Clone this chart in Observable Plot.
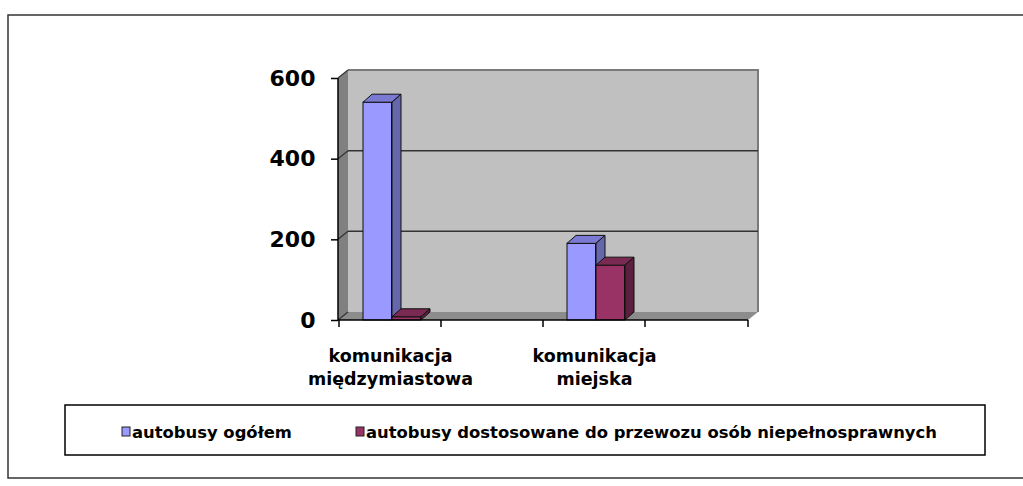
<!DOCTYPE html>
<html><head><meta charset="utf-8">
<script src="https://cdn.jsdelivr.net/npm/d3@7"></script>
<script src="https://cdn.jsdelivr.net/npm/@observablehq/plot@0.6"></script>
<style>body{margin:0;background:#fff;} #chart{position:relative;width:1023px;height:486px;overflow:hidden;}</style>
</head><body><div id="chart"></div>
<script>
// ---- data ----
const categories = ["komunikacja\nmiędzymiastowa", "", "komunikacja\nmiejska", " "];
const seriesNames = ["autobusy ogółem", "autobusy dostosowane do przewozu osób niepełnosprawnych"];
const ogolem = [540, null, 190, null];
const dostosowane = [8, null, 136, null];
const yTicks = [0, 200, 400, 600];
const yDomain = [0, 600];
const frontColors = ["#9999FF", "#993366"];
const topColors = ["#7A7AD2", "#7A2952"];
const sideColors = ["#6666AA", "#5C1F3F"];

const seriesValues = [ogolem, dostosowane];
const rows = seriesValues.map((vals, s) =>
  categories.map((c, i) => ({category: c, series: seriesNames[s], value: vals[i]})).filter(d => d.value != null));

// ---- layout ----
const W = 1023, H = 486;
const mL = 338, mR = 275, mT = 78, mB = 166;
const bw = (W - mL - mR) / categories.length;
const barW = 29, barOff = 24;
const insets = [[barOff, bw - barOff - barW], [barOff + barW, bw - barOff - 2 * barW]];
const DX = 10, DY = -8;   // wall depth
const BDX = 9, BDY = -8;  // bar depth
const FONT = "DejaVu Sans";

const plot = Plot.plot({
  width: W, height: H,
  marginLeft: mL, marginRight: mR, marginTop: mT, marginBottom: mB,
  style: {fontFamily: FONT, background: "transparent", color: "#000"},
  x: {domain: categories, padding: 0, axis: null},
  y: {domain: yDomain, axis: null},
  marks: [
    Plot.axisY({ticks: yTicks, tickSize: 7, tickPadding: 16, fontSize: 22, fontWeight: "bold",
      fill: "#000", stroke: "#000", strokeWidth: 1.5, label: null, tickFormat: d => String(d)}),
    Plot.axisX({tickSize: 0, tickPadding: 24, fontSize: 17.5, fontWeight: "bold", lineHeight: 1.37,
      fill: "#000", label: null}),
    ...rows.map((r, s) => Plot.barY(r, {x: "category", y: "value", fill: frontColors[s],
      stroke: "#111", strokeWidth: 1, insetLeft: insets[s][0], insetRight: insets[s][1]}))
  ]
});
document.getElementById("chart").appendChild(plot);

const xs = plot.scale("x"), ys = plot.scale("y");
const X = v => xs.apply(v), Y = v => ys.apply(v);
const svg = d3.select(plot);
const x0 = mL, x1 = W - mR, yb = Y(yDomain[0]), yt = Y(yDomain[1]);
const pts = a => a.map(p => p.join(",")).join(" ");

// ---- walls (behind everything) ----
const walls = svg.insert("g", ":first-child");
walls.append("rect").attr("x", x0 + DX).attr("y", yt + DY).attr("width", x1 - x0).attr("height", yb - yt)
  .attr("fill", "#C0C0C0");
walls.append("polygon").attr("points", pts([[x0, yt], [x0 + DX, yt + DY], [x0 + DX, yb + DY], [x0, yb]]))
  .attr("fill", "#808080");
walls.append("polygon").attr("points", pts([[x0, yb], [x0 + DX, yb + DY], [x1 + DX, yb + DY], [x1, yb]]))
  .attr("fill", "#8C8C8C");
walls.append("path").attr("d", `M${x0 + DX},${yt + DY}H${x1 + DX}V${yb + DY}`)
  .attr("fill", "none").attr("stroke", "#7A7A7A").attr("stroke-width", 2);
yTicks.forEach(t => {
  const yy = Y(t);
  if (t !== yDomain[0] && t !== yDomain[1])
    walls.append("line").attr("x1", x0 + DX).attr("x2", x1 + DX).attr("y1", yy + DY).attr("y2", yy + DY)
      .attr("stroke", "#333").attr("stroke-width", 1.5);
  walls.append("line").attr("x1", x0).attr("x2", x0 + DX).attr("y1", yy).attr("y2", yy + DY)
    .attr("stroke", "#333").attr("stroke-width", 1.2);
});

// ---- 3D bar faces ----
const barGroups = plot.querySelectorAll('g[aria-label="bar"]');
rows.forEach((r, s) => {
  const g0 = barGroups[s];
  const g = document.createElementNS("http://www.w3.org/2000/svg", "g");
  if (g0) g0.parentNode.insertBefore(g, g0.nextSibling); else plot.appendChild(g);
  const gg = d3.select(g).attr("stroke", "#111").attr("stroke-width", 1).attr("stroke-linejoin", "round");
  r.forEach(d => {
    const xl = X(d.category) + insets[s][0], xr = X(d.category) + bw - insets[s][1];
    const yv = Y(d.value), y0 = Y(0);
    gg.append("polygon").attr("points", pts([[xl, yv], [xr, yv], [xr + BDX, yv + BDY], [xl + BDX, yv + BDY]]))
      .attr("fill", topColors[s]);
    gg.append("polygon").attr("points", pts([[xr, yv], [xr + BDX, yv + BDY], [xr + BDX, y0 + BDY], [xr, y0]]))
      .attr("fill", sideColors[s]);
  });
});

// ---- front axes ----
const ax = svg.append("g").attr("stroke", "#000").attr("stroke-width", 1.5);
ax.append("line").attr("x1", x0).attr("x2", x0).attr("y1", yt).attr("y2", yb);
ax.append("line").attr("x1", x0).attr("x2", x1).attr("y1", yb).attr("y2", yb);
categories.forEach(c => {
  const xx = X(c);
  ax.append("line").attr("x1", xx).attr("x2", xx).attr("y1", yb).attr("y2", yb + 7);
});
ax.append("line").attr("x1", x1).attr("x2", x1).attr("y1", yb).attr("y2", yb + 7);

// ---- legend ----
const lg = svg.append("g").attr("font-family", FONT).attr("font-weight", "bold").attr("font-size", 16.4)
  .attr("text-anchor", "start");
lg.append("rect").attr("x", 65).attr("y", 405).attr("width", 920).attr("height", 50)
  .attr("fill", "none").attr("stroke", "#000").attr("stroke-width", 1.5);
const legendX = [122, 356];
seriesNames.forEach((n, s) => {
  lg.append("rect").attr("x", legendX[s]).attr("y", 427).attr("width", 8).attr("height", 9)
    .attr("fill", frontColors[s]).attr("stroke", "#222").attr("stroke-width", 1);
  lg.append("text").attr("x", legendX[s] + 10).attr("y", 437.5).attr("fill", "#000")
    .attr("text-anchor", "start").text(n);
});

// ---- chart area border ----
svg.append("rect").attr("x", 8).attr("y", 15).attr("width", 1030).attr("height", 463)
  .attr("fill", "none").attr("stroke", "#333").attr("stroke-width", 1.5);
</script>
</body></html>
